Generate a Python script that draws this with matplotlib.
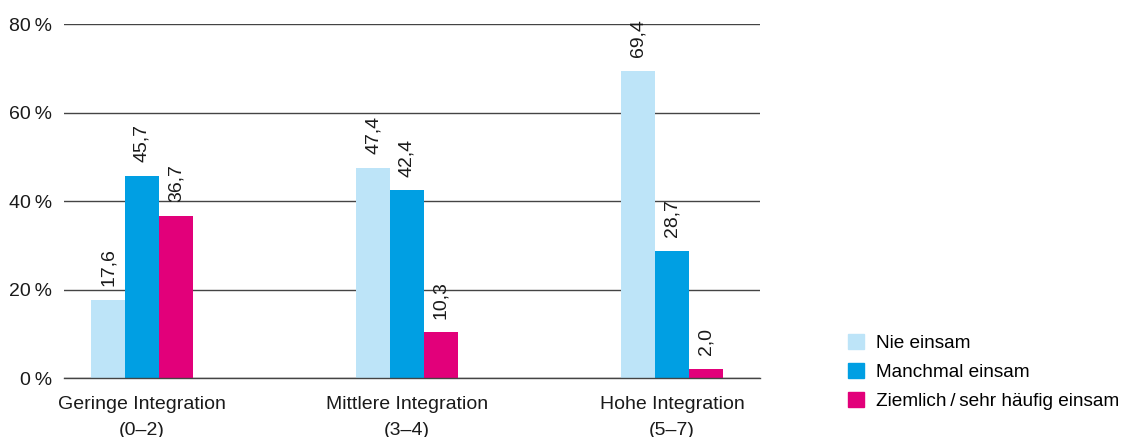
import matplotlib.pyplot as plt
from matplotlib.patches import Patch
import numpy as np

plt.rcParams['font.family'] = ['Liberation Sans', 'DejaVu Sans']

groups = ['Geringe Integration\n(0\u20132)', 'Mittlere Integration\n(3\u20134)', 'Hohe Integration\n(5\u20137)']
series = ['Nie einsam', 'Manchmal einsam', 'Ziemlich\u2009/\u2009sehr häufig einsam']
nie = [17.6, 47.4, 69.4]
manchmal = [45.7, 42.4, 28.7]
haeufig = [36.7, 10.3, 2.0]
colors = ['#bde4f8', '#009fe3', '#e2007a']
yticks = [0, 20, 40, 60, 80]

fig = plt.figure(figsize=(11.33, 4.37), dpi=100)
ax = fig.add_axes([0.0565, 0.135, 0.6143, 0.81])

x = np.arange(len(groups))
w = 0.128
for i, (vals, c) in enumerate(zip([nie, manchmal, haeufig], colors)):
    pos = x + (i - 1) * w
    ax.bar(pos, vals, width=w, color=c, zorder=3)
    for p, v in zip(pos, vals):
        ax.annotate(f'{v:.1f}'.replace('.', ','), (p, v), xytext=(0, 10),
                    textcoords='offset points', rotation=90, ha='center',
                    va='bottom', fontsize=14, color='#1a1a1a')

ax.set_xlim(-0.294, 2.332)
ax.set_ylim(0, 80)
ax.set_yticks(yticks)
ax.set_yticklabels([f'{t}\u2009%' for t in yticks], fontsize=14, color='#1a1a1a')
ax.yaxis.grid(True, color='#444444', linewidth=1, zorder=0)
ax.axhline(0, color='#444444', linewidth=1, zorder=4, clip_on=False)
ax.tick_params(axis='y', length=0, pad=8.5)
ax.tick_params(axis='x', length=0, pad=13)
ax.set_xticks(x)
ax.set_xticklabels(groups, fontsize=14, color='#1a1a1a', linespacing=1.65)
for s in ax.spines.values():
    s.set_visible(False)

handles = [Patch(color=c) for c in colors]
fig.legend(handles, series, loc='lower left', bbox_to_anchor=(0.733, 0.022),
           frameon=False, fontsize=13.7, handlelength=0.84, handleheight=0.84,
           handletextpad=0.65, labelspacing=0.58)

fig.savefig('out.png', dpi=100)
